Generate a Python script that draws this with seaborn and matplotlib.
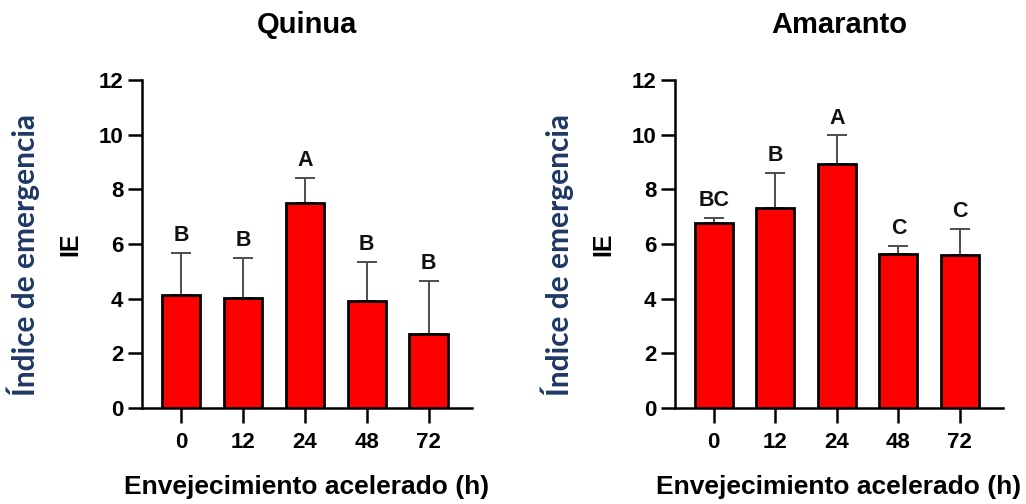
import matplotlib
matplotlib.use("Agg")
import matplotlib.pyplot as plt
import seaborn as sns
import pandas as pd
import numpy as np

# Accelerated ageing times (h)
hours = ["0", "12", "24", "48", "72"]

# Emergence index (IE): means, standard deviations and significance groups
quinua_mean = [4.13, 4.01, 7.51, 3.93, 2.70]
quinua_sd = [1.53, 1.47, 0.92, 1.40, 1.95]
quinua_group = ["B", "B", "A", "B", "B"]

amaranto_mean = [6.77, 7.32, 8.94, 5.62, 5.58]
amaranto_sd = [0.18, 1.28, 1.03, 0.32, 0.97]
amaranto_group = ["BC", "B", "A", "C", "C"]

sns.set_theme(style="white")
plt.rcParams["font.family"] = ["Liberation Sans", "DejaVu Sans"]
plt.rcParams["font.weight"] = "bold"
plt.rcParams["text.color"] = "black"
plt.rcParams["axes.labelcolor"] = "black"
plt.rcParams["axes.titlecolor"] = "black"

fig = plt.figure(figsize=(10.26, 5.04), dpi=100)
ax1 = fig.add_axes([142 / 1026, 96 / 504, 330 / 1026, 328 / 504])
ax2 = fig.add_axes([675 / 1026, 96 / 504, 328 / 1026, 328 / 504])

navy = "#1F3864"


def draw_panel(ax, title, means, sds, groups):
    df = pd.DataFrame({"hours": hours, "IE": means})
    sns.barplot(data=df, x="hours", y="IE", order=hours, ax=ax,
                color="#FF0000", saturation=1, width=0.62,
                edgecolor="black", linewidth=2.0, errorbar=None, zorder=3)
    xs = np.arange(len(hours))
    ax.errorbar(xs, means, yerr=[np.zeros(len(means)), sds], fmt="none",
                ecolor="#4d4d4d", elinewidth=1.4, capsize=7.5, capthick=1.4,
                zorder=2)
    for x, m, s, g in zip(xs, means, sds, groups):
        ax.annotate(g, (x, m + s), xytext=(0, 5), textcoords="offset points",
                    ha="center", va="bottom", fontsize=15.5,
                    fontweight="bold", color="#111111")

    ax.set_xlim(-0.63, 4.70)
    ax.set_ylim(0, 12)
    ax.set_yticks([0, 2, 4, 6, 8, 10, 12])
    for side in ["top", "right"]:
        ax.spines[side].set_visible(False)
    for side in ["left", "bottom"]:
        ax.spines[side].set_linewidth(1.8)
        ax.spines[side].set_color("black")
    ax.tick_params(axis="y", direction="out", length=10, width=1.8,
                   labelsize=16, pad=3.5, colors="black", left=True)
    ax.tick_params(axis="x", direction="out", length=11, width=1.8,
                   labelsize=16, pad=6, colors="black", bottom=True)
    for lab in ax.get_xticklabels() + ax.get_yticklabels():
        lab.set_fontweight("bold")

    ax.set_title(title, fontsize=21, fontweight="bold", pad=34, color="black")
    ax.set_xlabel("Envejecimiento acelerado (h)", fontsize=19,
                  fontweight="bold", color="black")
    ax.xaxis.set_label_coords(0.5, -0.205)
    ax.set_ylabel("IE", fontsize=18, fontweight="bold", color="black")
    ax.yaxis.label.set_va("center")
    ax.yaxis.set_label_coords(-0.218, 0.5)
    ax.text(-0.36, 0.465, "Índice de emergencia", transform=ax.transAxes,
            rotation=90, ha="center", va="center", fontsize=21.5,
            fontweight="bold", color=navy, family=["Lato", "DejaVu Sans"])


draw_panel(ax1, "Quinua", quinua_mean, quinua_sd, quinua_group)
draw_panel(ax2, "Amaranto", amaranto_mean, amaranto_sd, amaranto_group)

fig.savefig("out.png", dpi=100)
